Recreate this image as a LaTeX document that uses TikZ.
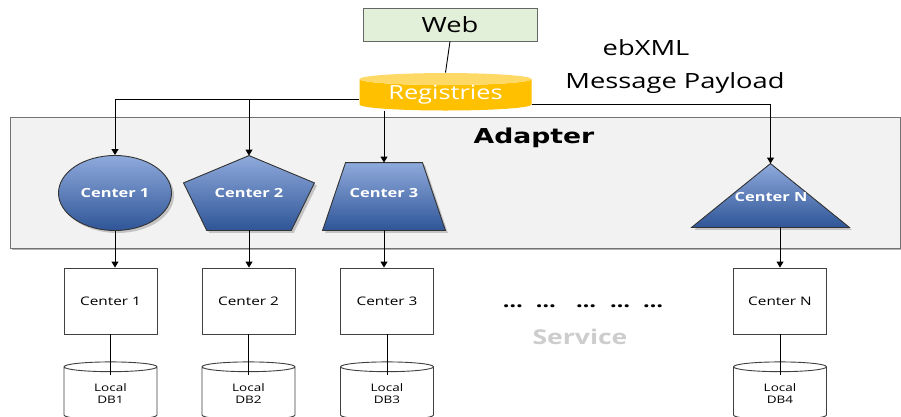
\documentclass[tikz,border=0pt]{standalone}
\usepackage{fontspec}
\setmainfont{Open Sans}[FakeStretch=1.3]
\newfontfamily\heavyfont{DejaVu Sans}[FakeStretch=1.3]
\definecolor{WebGreen}{RGB}{226,240,217}
\definecolor{RegGold}{RGB}{255,192,0}
\definecolor{RegTop}{RGB}{255,217,102}
\definecolor{AdapterGray}{RGB}{242,242,242}
\definecolor{CenterLight}{RGB}{143,170,220}
\definecolor{CenterDark}{RGB}{47,85,151}
\definecolor{EdgeGray}{RGB}{64,64,64}
\definecolor{ServiceGray}{RGB}{205,205,205}
\usetikzlibrary{arrows.meta,positioning,calc,shapes.geometric,shadows}

\begin{document}
\begin{tikzpicture}[x=1pt,y=-1pt,line width=0.9pt,
  svcbox/.style={draw=EdgeGray,fill=white,minimum width=93pt,minimum height=66pt,
    font=\fontsize{11.8}{13}\selectfont},
  dbcyl/.style={cylinder,shape border rotate=90,draw=EdgeGray,fill=white,aspect=0.3,
    minimum width=93pt,minimum height=58pt,align=center,inner sep=0pt,
    font=\fontsize{10.4}{12}\selectfont},
  cshape/.style={draw=black!80,shading=axis,top color=CenterLight,bottom color=CenterDark,
    drop shadow={shadow xshift=2.5pt,shadow yshift=-2.5pt,opacity=0.4}},
  ctext/.style={text=white,font=\bfseries\fontsize{12.6}{14}\selectfont},
  arr/.style={-{Triangle[width=7pt,length=6pt]}},
  ]
\useasboundingbox[fill=white] (0,0) rectangle (901,416);

% adapter panel
\node[draw=black!55,fill=AdapterGray,minimum width=890pt,minimum height=131pt,
  drop shadow={shadow xshift=2pt,shadow yshift=-2pt,opacity=0.6}] (adapter) at (455,182.5) {};
\node[font=\heavyfont\bfseries\fontsize{20.5}{24}\selectfont] (adaptitle) at (534,138) {Adapter};

% web + registries
\node[draw=black!60,fill=WebGreen,minimum width=174pt,minimum height=33pt,
  font=\fontsize{21}{24}\selectfont] (web) at (450,24.5) {Web};
\node[cylinder,shape border rotate=90,aspect=0.105,cylinder uses custom fill,
  cylinder body fill=RegGold,cylinder end fill=RegTop,minimum width=172pt,minimum height=32pt,
  inner sep=0pt,text=white,font=\fontsize{19.5}{22}\selectfont] (reg) at (445.5,95) {Registries};
\draw (web.south) -- (reg.north);

\node[font=\fontsize{21}{24}\selectfont] (ebxml) at (646,48) {ebXML};
\node[font=\fontsize{21}{24}\selectfont] (payload) at (675,83) {Message Payload};

% Center 1 (ellipse)
\node[ellipse,cshape,minimum width=113pt,minimum height=75pt,ctext] (c1) at (115,193) {Center 1};
% Center 2 (pentagon)
\node[minimum width=130pt,minimum height=74pt,inner sep=0pt] (c2) at (249,193) {};
\path[cshape] (c2.north) -- ($(c2.north west)!0.365!(c2.south west)$)
  -- ($(c2.south west)!0.177!(c2.south east)$) -- ($(c2.south east)!0.177!(c2.south west)$)
  -- ($(c2.north east)!0.365!(c2.south east)$) -- cycle;
\node[ctext] (t2) at (c2) {Center 2};
% Center 3 (trapezoid)
\node[minimum width=122pt,minimum height=67pt,inner sep=0pt] (c3) at (384,196.5) {};
\path[cshape] ([xshift=23pt]c3.north west) -- ([xshift=-23pt]c3.north east)
  -- (c3.south east) -- (c3.south west) -- cycle;
\node[ctext] (t3) at (384,193) {Center 3};
% Center N (triangle)
\node[minimum width=157pt,minimum height=63pt,inner sep=0pt] (cN) at (770.5,195.5) {};
\path[cshape] (cN.north) -- (cN.south east) -- (cN.south west) -- cycle;
\node[ctext] (tN) at (771,197) {Center N};

% registries to adapter
\coordinate (regL) at ([yshift=-4pt]reg.west);
\coordinate (regR) at ([yshift=-9pt]reg.east);
\draw[arr] (regL) -| (c1.north);
\draw[arr] (regL -| c2.north) -- (c2.north);
\draw[arr] (reg.south -| c3.north) -- (c3.north);
\draw[arr] (regR) -| (cN.north);

% services and local DBs
\node[svcbox] (sb1) at (110.5,301) {Center 1};
\node[svcbox] (sb2) at (248.5,301) {Center 2};
\node[svcbox] (sb3) at (387,301) {Center 3};
\node[svcbox] (sbN) at (780,301) {Center N};
\foreach \s/\d in {1/1,2/2,3/3,N/4}{
  \node[dbcyl,below=27pt of sb\s] (db\d) {Local\\DB\d};
  \draw (sb\s.south) -- ([yshift=-14pt]db\d.north);
}
\draw[arr] (c1.south) -- (c1.south |- sb1.north);
\draw[arr] (c2.south) -- (c2.south |- sb2.north);
\draw[arr] (c3.south) -- (c3.south |- sb3.north);
\draw[arr] (cN.south -| sbN.north) -- (sbN.north);

\node[font=\bfseries\fontsize{18}{18}\selectfont] (dots) at (583,306)
  {…\hspace{13pt}…\hspace{20pt}…\hspace{14pt}…\hspace{13pt}…};
\node[text=ServiceGray,font=\bfseries\fontsize{20.4}{22}\selectfont] (service) at (580,337) {Service};
\end{tikzpicture}
\end{document}
